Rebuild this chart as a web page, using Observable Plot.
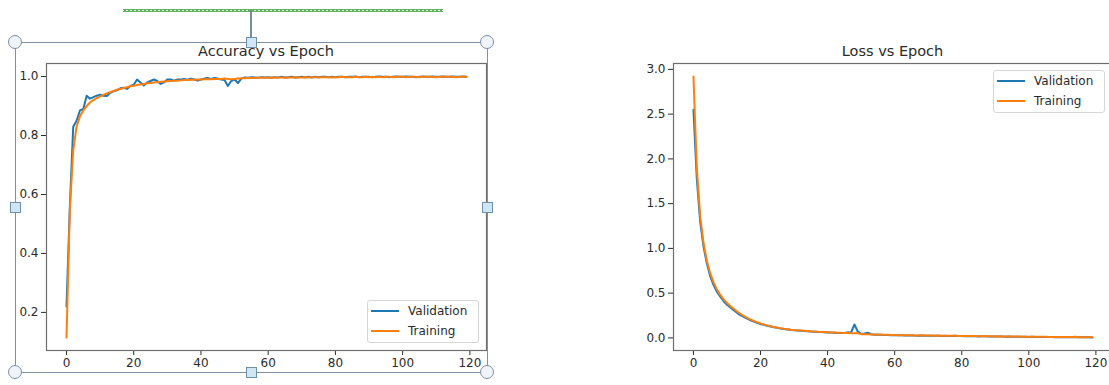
<!DOCTYPE html>
<html><head><meta charset="utf-8">
<script src="https://cdn.jsdelivr.net/npm/d3@7"></script>
<script src="https://cdn.jsdelivr.net/npm/@observablehq/plot@0.6"></script>
<style>
html,body{margin:0;padding:0;background:#fff;}
#page{position:relative;width:1109px;height:385px;overflow:hidden;font-family:"DejaVu Sans",sans-serif;background:#fff;}
#page svg{position:absolute;top:0;max-width:none;}
.title{position:absolute;top:44px;width:300px;font-size:14.5px;line-height:14.5px;color:#2b2b2b;text-align:center;white-space:nowrap;}
.legend{position:absolute;width:112px;height:43px;border:1px solid #d6d6d6;border-radius:3px;background:rgba(255,255,255,0.85);box-sizing:border-box;}
.legend .sw{position:absolute;left:3px;width:28px;height:2px;}
.legend .lt{position:absolute;left:40px;font-size:12px;line-height:14px;color:#2b2b2b;white-space:nowrap;}
.sel{position:absolute;border:1.5px solid #7f90a3;box-sizing:border-box;}
.circ{position:absolute;width:14px;height:14px;border-radius:50%;border:1.5px solid #7f90a3;background:#eef4fa;box-sizing:border-box;}
.sq{position:absolute;width:11px;height:11px;border:1.5px solid #6f8fab;background:#cfe6f7;box-sizing:border-box;}
.rot{position:absolute;width:1.5px;background:#7a8a9b;}
.squig{position:absolute;height:3px;
  background-image:linear-gradient(45deg, transparent 35%, #5bb35b 35%, #5bb35b 65%, transparent 65%),
                   linear-gradient(-45deg, transparent 35%, #5bb35b 35%, #5bb35b 65%, transparent 65%);
  background-size:4px 3px;background-repeat:repeat-x;}
</style>
</head><body>
<div id="page"></div>
<script>
// ---- data ----
const epochs = Array.from({length: 120}, (_, i) => i);
const seriesNames = ["Validation", "Training"];
const seriesColors = ["#1f77b4", "#ff7f0e"];
const xTicks = [0, 20, 40, 60, 80, 100, 120];
const accTicks = [0.2, 0.4, 0.6, 0.8, 1.0];
const lossTicks = [0.0, 0.5, 1.0, 1.5, 2.0, 2.5, 3.0];
const titles = ["Accuracy vs Epoch", "Loss vs Epoch"];

const accVal = [
0.22,0.56,0.83,0.85,0.885,0.89,0.935,0.925,0.93,0.935,
0.938,0.935,0.934,0.945,0.95,0.953,0.96,0.962,0.958,0.968,
0.972,0.99,0.98,0.97,0.98,0.985,0.99,0.985,0.975,0.98,
0.99,0.99,0.986,0.99,0.99,0.992,0.989,0.993,0.99,0.986,
0.99,0.993,0.995,0.992,0.995,0.993,0.99,0.988,0.968,0.985,
0.99,0.978,0.993,0.997,0.996,0.998,0.997,0.996,0.998,0.997,
0.998,0.996,0.998,0.997,0.999,0.997,0.998,0.999,0.997,0.998,
0.999,0.998,0.999,0.997,0.999,0.998,0.999,0.999,0.998,0.999,
0.998,0.999,0.999,0.998,0.999,0.999,1.0,0.998,0.999,0.999,
0.999,0.998,0.999,1.0,0.999,0.999,0.998,0.999,1.0,0.999,
0.999,1.0,0.999,0.999,0.998,0.999,1.0,0.999,0.999,1.0,
0.999,0.999,1.0,0.999,0.999,1.0,0.999,0.999,1.0,0.999];

const accTrain = [
0.115,0.55,0.75,0.83,0.865,0.885,0.900,0.912,0.920,0.927,
0.933,0.938,0.943,0.947,0.951,0.955,0.958,0.961,0.964,0.967,
0.969,0.971,0.973,0.975,0.977,0.978,0.980,0.981,0.982,0.983,
0.984,0.985,0.986,0.986,0.987,0.988,0.988,0.989,0.989,0.990,
0.990,0.991,0.991,0.991,0.992,0.992,0.992,0.993,0.992,0.991,
0.992,0.993,0.994,0.994,0.995,0.995,0.995,0.996,0.996,0.996,
0.996,0.997,0.996,0.997,0.997,0.996,0.997,0.997,0.998,0.997,
0.997,0.998,0.997,0.998,0.998,0.997,0.998,0.998,0.998,0.997,
0.998,0.998,0.999,0.998,0.998,0.998,0.999,0.998,0.998,0.999,
0.998,0.999,0.998,0.999,0.998,0.999,0.999,0.998,0.999,0.999,
0.999,0.998,0.999,0.999,0.999,0.998,0.999,0.999,0.999,0.999,
0.998,0.999,0.999,0.999,0.999,0.999,0.998,0.999,0.999,0.999];

const lossVal = [
2.55,1.78,1.30,1.02,0.83,0.69,0.59,0.515,0.46,0.41,
0.37,0.34,0.31,0.28,0.255,0.235,0.215,0.197,0.182,0.168,
0.156,0.146,0.136,0.127,0.12,0.113,0.106,0.1,0.095,0.09,
0.086,0.083,0.08,0.077,0.074,0.071,0.069,0.067,0.065,0.063,
0.061,0.059,0.058,0.056,0.055,0.054,0.062,0.058,0.15,0.07,
0.045,0.05,0.058,0.042,0.036,0.035,0.034,0.033,0.032,0.031,
0.030,0.029,0.030,0.028,0.027,0.028,0.026,0.025,0.028,0.025,
0.024,0.025,0.023,0.024,0.022,0.023,0.021,0.022,0.024,0.020,
0.020,0.019,0.020,0.018,0.019,0.017,0.018,0.018,0.016,0.017,
0.015,0.016,0.015,0.014,0.016,0.013,0.014,0.014,0.012,0.013,
0.011,0.012,0.011,0.010,0.011,0.011,0.009,0.010,0.008,0.009,
0.008,0.008,0.009,0.007,0.011,0.006,0.007,0.006,0.006,0.005];

const lossTrain = [
2.92,1.90,1.36,1.06,0.86,0.72,0.62,0.54,0.48,0.43,
0.39,0.355,0.325,0.295,0.27,0.245,0.225,0.205,0.19,0.175,
0.162,0.15,0.14,0.13,0.122,0.115,0.108,0.102,0.097,0.092,
0.088,0.085,0.082,0.079,0.076,0.073,0.071,0.069,0.067,0.065,
0.063,0.061,0.060,0.058,0.057,0.055,0.054,0.053,0.052,0.051,
0.042,0.041,0.040,0.039,0.038,0.037,0.036,0.035,0.034,0.033,
0.032,0.031,0.031,0.030,0.029,0.030,0.028,0.027,0.029,0.027,
0.026,0.026,0.025,0.026,0.024,0.024,0.023,0.023,0.025,0.022,
0.022,0.021,0.021,0.020,0.021,0.019,0.019,0.020,0.018,0.018,
0.017,0.018,0.016,0.016,0.017,0.015,0.015,0.016,0.014,0.014,
0.013,0.014,0.013,0.012,0.012,0.013,0.011,0.011,0.010,0.011,
0.010,0.009,0.010,0.009,0.013,0.008,0.008,0.007,0.008,0.007];

// ---- helpers ----
function tidy(val, train) {
  const rows = [];
  [val, train].forEach((arr, k) => arr.forEach((v, i) => rows.push({epoch: epochs[i], value: v, series: seriesNames[k]})));
  return rows;
}
function padded(values) {           // matplotlib-like 5% margins
  const [a, b] = d3.extent(values);
  const m = (b - a) * 0.05;
  return [a - m, b + m];
}

const page = document.getElementById("page");

function makeChart(opts) {
  const data = tidy(opts.val, opts.train);
  const svg = Plot.plot({
    width: opts.width, height: 385,
    marginLeft: opts.ml, marginRight: opts.mr, marginTop: 63, marginBottom: 35,
    style: {fontFamily: "DejaVu Sans", fontSize: "12px", color: "#2b2b2b", background: "transparent", maxWidth: "none"},
    x: {domain: padded(epochs), ticks: xTicks, tickFormat: d => String(d), tickSize: 5, tickPadding: 3, label: null},
    y: {domain: padded(opts.val.concat(opts.train)), ticks: opts.yTicks, tickFormat: d3.format(".1f"), tickSize: 5, tickPadding: 3, label: null},
    color: {domain: seriesNames, range: seriesColors},
    marks: [
      Plot.line(data, {x: "epoch", y: "value", stroke: "series", z: "series", strokeWidth: 2}),
      Plot.frame({stroke: "#6e6e6e", strokeWidth: 1.2})
    ]
  });
  svg.style.left = opts.left + "px";
  page.appendChild(svg);

  const t = document.createElement("div");
  t.className = "title";
  t.textContent = opts.title;
  t.style.left = (opts.left + opts.ml + (opts.width - opts.ml - opts.mr) / 2 - 150) + "px";
  page.appendChild(t);

  const lg = document.createElement("div");
  lg.className = "legend";
  lg.style.left = opts.lgx + "px";
  lg.style.top = opts.lgy + "px";
  seriesNames.forEach((name, k) => {
    const ry = 10 + k * 19.5;
    const sw = document.createElement("div");
    sw.className = "sw";
    sw.style.top = (ry - 1) + "px";
    sw.style.background = seriesColors[k];
    lg.appendChild(sw);
    const tx = document.createElement("div");
    tx.className = "lt";
    tx.style.top = (ry - 7) + "px";
    tx.textContent = name;
    lg.appendChild(tx);
  });
  page.appendChild(lg);
}

makeChart({val: accVal, train: accTrain, yTicks: accTicks, title: titles[0],
  left: 0, width: 500, ml: 46, mr: 14, lgx: 367, lgy: 300});
makeChart({val: lossVal, train: lossTrain, yTicks: lossTicks, title: titles[1],
  left: 620, width: 500, ml: 53, mr: 8, lgx: 993, lgy: 70});

// ---- selection frame decoration (word-processor handles around the left picture) ----
function addDiv(cls, css) {
  const d = document.createElement("div");
  d.className = cls;
  Object.assign(d.style, css);
  page.appendChild(d);
  return d;
}
addDiv("squig", {left: "123px", top: "9px", width: "320px"});
addDiv("rot", {left: "250px", top: "10px", height: "28px"});
addDiv("sel", {left: "15px", top: "42px", width: "473px", height: "331px"});
[[15, 42], [487, 42], [15, 372], [487, 372]].forEach(([x, y]) =>
  addDiv("circ", {left: (x - 7) + "px", top: (y - 7) + "px"}));
[[251, 42], [15, 207], [487, 207], [251, 372]].forEach(([x, y]) =>
  addDiv("sq", {left: (x - 5.5) + "px", top: (y - 5.5) + "px"}));
</script>
</body></html>
